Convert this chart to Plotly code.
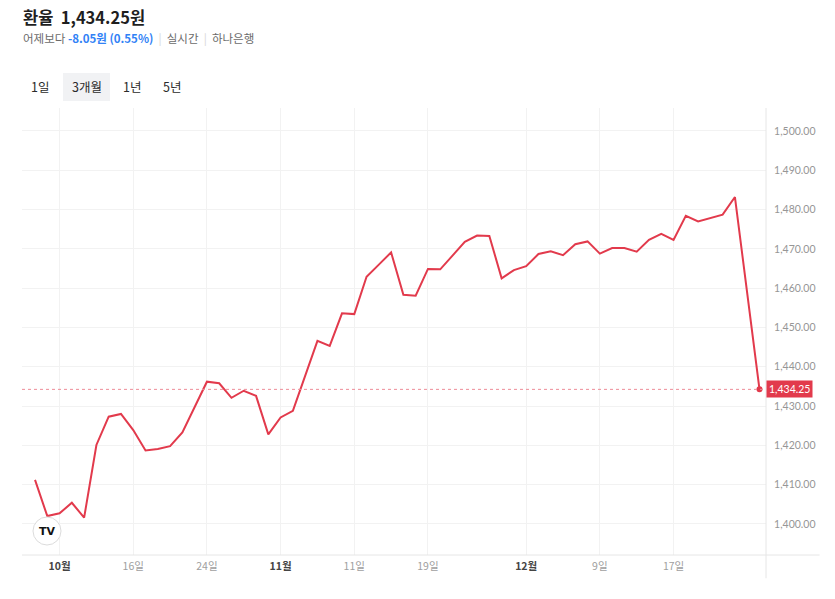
import plotly.graph_objects as go

# ---- data (trading days, KRW per USD) ----
dates = ["09-29", "09-30", "10-01", "10-02", "10-10", "10-13", "10-14", "10-15", "10-16", "10-17",
         "10-20", "10-21", "10-22", "10-23", "10-24", "10-27", "10-28", "10-29", "10-30", "10-31",
         "11-03", "11-04", "11-05", "11-06", "11-07", "11-10", "11-11", "11-12", "11-13", "11-14",
         "11-17", "11-18", "11-19", "11-20", "11-21", "11-24", "11-25", "11-26", "11-27", "11-28",
         "12-01", "12-02", "12-03", "12-04", "12-05", "12-08", "12-09", "12-10", "12-11", "12-12",
         "12-15", "12-16", "12-17", "12-18", "12-19", "12-22", "12-23", "12-24", "12-25", "12-26"]
rates = [1411.2, 1402.0, 1402.7, 1405.4, 1401.6, 1420.1, 1427.3, 1428.0, 1423.9, 1418.7,
         1419.1, 1419.8, 1423.3, 1429.8, 1436.2, 1435.8, 1432.1, 1433.9, 1432.6, 1422.8,
         1427.1, 1428.8, 1437.6, 1446.6, 1445.3, 1453.6, 1453.4, 1462.9, 1466.0, 1469.1,
         1458.3, 1458.1, 1464.9, 1464.8, 1468.3, 1471.8, 1473.4, 1473.3, 1462.5, 1464.6,
         1465.6, 1468.7, 1469.4, 1468.4, 1471.2, 1471.9, 1468.8, 1470.2, 1470.2, 1469.3,
         1472.3, 1473.8, 1472.3, 1478.4, 1477.0, 1477.8, 1478.7, 1483.2, None, 1434.25]
tick_dates = ["10-01", "10-16", "10-24", "11-03", "11-11", "11-19", "12-01", "12-09", "12-17"]
tick_labels = ["10월", "16일", "24일", "11월", "11일", "19일", "12월", "9일", "17일"]
y_ticks = [1400, 1410, 1420, 1430, 1440, 1450, 1460, 1470, 1480, 1490, 1500]
last_value = 1434.25

RED = "#e23a4c"
KFONT = "Noto Sans CJK KR, Noto Sans, sans-serif"
NFONT = "Lato, Noto Sans, sans-serif"

x_idx = list(range(len(dates)))
last_i = max(i for i, v in enumerate(rates) if v is not None)

def fmt_label(t):
    if t.endswith("월"):
        return f"<span style='color:#444'><b>{t}</b></span>"
    return f"<span style='color:#a0a0a0'>{t}</span>"

fig = go.Figure()
fig.add_trace(go.Scatter(
    x=x_idx, y=rates, mode="lines", connectgaps=True,
    line=dict(color=RED, width=2), hoverinfo="skip", showlegend=False))
fig.add_trace(go.Scatter(
    x=[x_idx[last_i]], y=[rates[last_i]], mode="markers",
    marker=dict(color=RED, size=6), hoverinfo="skip", showlegend=False))

fig.update_layout(
    width=835, height=599,
    margin=dict(l=22, r=69, t=108, b=44),
    paper_bgcolor="white", plot_bgcolor="white",
    font=dict(family=KFONT, color="#333"),
    xaxis=dict(
        range=[-1.06, 59.53], showgrid=True, gridcolor="#f2f2f2", gridwidth=1,
        zeroline=False, showline=False,
        tickvals=[dates.index(d) for d in tick_dates],
        ticktext=[fmt_label(t) for t in tick_labels],
        tickfont=dict(size=10.5, family=KFONT), ticks="outside", ticklen=1,
        tickcolor="rgba(0,0,0,0)"),
    yaxis=dict(
        range=[1392.1, 1505.85], side="right", showgrid=True, gridcolor="#f2f2f2",
        zeroline=False, showline=False,
        tickvals=y_ticks, ticktext=[f"{v:,.2f}" for v in y_ticks],
        tickfont=dict(size=10.5, family=NFONT, color="#969696"),
        ticks="outside", ticklen=5, tickcolor="rgba(0,0,0,0)"),
)

shapes = [
    # right axis border
    dict(type="line", xref="paper", yref="paper", x0=1, x1=1, y0=-0.052, y1=1,
         line=dict(color="#e6e6e6", width=1)),
    # bottom axis line
    dict(type="line", xref="paper", yref="paper", x0=0, x1=1.072, y0=0, y1=0,
         line=dict(color="#e6e6e6", width=1)),
    # last price dotted line
    dict(type="line", xref="paper", yref="y", x0=0, x1=1, y0=last_value, y1=last_value,
         line=dict(color="#ee8d98", width=1, dash="dot")),
    # selected period button background
    dict(type="rect", xref="paper", yref="paper", x0=(63 - 22) / 744, x1=(110 - 22) / 744,
         y0=(555 - 101) / 447, y1=(555 - 73) / 447, fillcolor="#f1f2f4",
         line=dict(width=0), layer="below"),
    # TradingView logo circle
    dict(type="circle", xref="paper", yref="paper",
         x0=(33 - 22) / 744, x1=(61 - 22) / 744, y0=(555 - 545) / 447, y1=(555 - 517) / 447,
         fillcolor="white", line=dict(color="#dcdcdc", width=1)),
]
fig.update_layout(shapes=shapes)

def px_x(px):
    return (px - 22) / 744

def px_y(py):
    return (555 - py) / 447

ann = []
ann.append(dict(xref="paper", yref="y", x=1, y=last_value, xanchor="left", yanchor="middle",
                text=f"{last_value:,.2f}", showarrow=False, bgcolor=RED, borderpad=2,
                font=dict(color="white", size=10.5, family=NFONT)))
# header
ann.append(dict(xref="paper", yref="paper", x=px_x(21), y=px_y(17), xanchor="left", yanchor="middle",
                text="<b>환율</b>  <b>1,434.25원</b>", showarrow=False,
                font=dict(size=16.5, color="#1f1f1f", family=KFONT)))
ann.append(dict(xref="paper", yref="paper", x=px_x(21), y=px_y(38), xanchor="left", yanchor="middle",
                text="<span style='color:#6b6b6b'>어제보다</span> "
                     "<span style='color:#3182f6'><b>-8.05원 (0.55%)</b></span>"
                     "<span style='color:#d5d5d5'>&nbsp;&nbsp;|&nbsp;&nbsp;</span>"
                     "<span style='color:#6b6b6b'>실시간</span>"
                     "<span style='color:#d5d5d5'>&nbsp;&nbsp;|&nbsp;&nbsp;</span>"
                     "<span style='color:#6b6b6b'>하나은행</span>",
                showarrow=False, font=dict(size=11.5, family=KFONT)))
for label, cx in [("1일", 40), ("3개월", 86.5), ("1년", 132), ("5년", 172)]:
    ann.append(dict(xref="paper", yref="paper", x=px_x(cx), y=px_y(87), xanchor="center",
                    yanchor="middle", text=label, showarrow=False,
                    font=dict(size=12.5, color="#2b2b2b", family=KFONT)))
ann.append(dict(xref="paper", yref="paper", x=px_x(47), y=px_y(531), xanchor="center",
                yanchor="middle", text="<b>TV</b>", showarrow=False,
                font=dict(size=11, color="#111", family="DejaVu Sans")))
fig.update_layout(annotations=ann)

fig.write_html("out.html")
